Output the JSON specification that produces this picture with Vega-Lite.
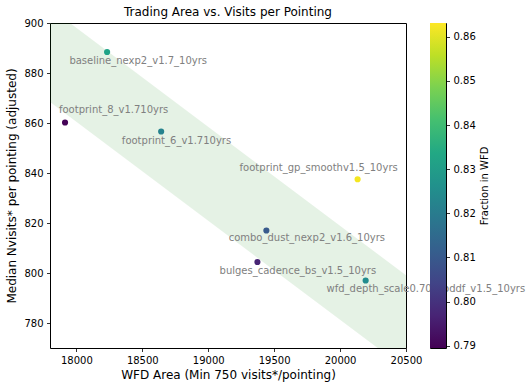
{
  "$schema": "https://vega.github.io/schema/vega-lite/v6.json",
  "background": "white",
  "padding": 5,
  "bounds": "flush",
  "spacing": 24,
  "config": {
    "font": "DejaVu Sans",
    "view": {"stroke": "black", "strokeWidth": 1},
    "axis": {
      "grid": false, "domain": false, "tickColor": "black", "tickSize": 3.5, "tickWidth": 0.8,
      "labelColor": "black", "labelFontSize": 10, "labelFont": "DejaVu Sans", "labelPadding": 3.5,
      "labelFlush": false, "labelOverlap": false,
      "titleFont": "DejaVu Sans", "titleFontWeight": "normal", "titleColor": "black", "titleFontSize": 12
    },
    "title": {"font": "DejaVu Sans", "fontSize": 12, "fontWeight": "normal", "color": "black"}
  },
  "datasets": {
    "band": [
      {"x": 17800, "top": 906.0, "bottom": 868.4},
      {"x": 20500, "top": 799.1, "bottom": 761.5}
    ],
    "runs": [
      {"name": "baseline_nexp2_v1.7_10yrs", "area": 18233, "nvisits": 888.4, "frac": 0.832, "lx": 17947, "ly": 884.9},
      {"name": "footprint_8_v1.710yrs", "area": 17914, "nvisits": 860.2, "frac": 0.790, "lx": 17868, "ly": 865.1},
      {"name": "footprint_6_v1.710yrs", "area": 18643, "nvisits": 856.6, "frac": 0.822, "lx": 18345, "ly": 853.0},
      {"name": "footprint_gp_smoothv1.5_10yrs", "area": 20133, "nvisits": 837.5, "frac": 0.862, "lx": 19238, "ly": 842.2},
      {"name": "combo_dust_nexp2_v1.6_10yrs", "area": 19441, "nvisits": 817.0, "frac": 0.810, "lx": 19155, "ly": 813.9},
      {"name": "bulges_cadence_bs_v1.5_10yrs", "area": 19373, "nvisits": 804.4, "frac": 0.797, "lx": 19086, "ly": 801.0},
      {"name": "wfd_depth_scale0.70_noddf_v1.5_10yrs", "area": 20194, "nvisits": 797.0, "frac": 0.825, "lx": 19897, "ly": 793.6}
    ],
    "cbar": [{"lo": 0.7895, "hi": 0.8631}]
  },
  "hconcat": [
    {
      "width": 356,
      "height": 325,
      "title": {"text": "Trading Area vs. Visits per Pointing", "offset": -1},
      "layer": [
        {
          "data": {"name": "band"},
          "mark": {"type": "area", "clip": true, "color": "#008000", "opacity": 0.1},
          "encoding": {
            "x": {"field": "x", "type": "quantitative",
                  "scale": {"domain": [17800, 20500], "nice": false, "zero": false},
                  "axis": {"values": [18000, 18500, 19000, 19500, 20000, 20500], "format": "d",
                           "title": "WFD Area (Min 750 visits*/pointing)", "titlePadding": 4}},
            "y": {"field": "top", "type": "quantitative",
                  "scale": {"domain": [770, 900], "nice": false, "zero": false},
                  "axis": {"values": [780, 800, 820, 840, 860, 880, 900],
                           "title": "Median Nvisits* per pointing (adjusted)", "titlePadding": 5}},
            "y2": {"field": "bottom"}
          }
        },
        {
          "data": {"name": "runs"},
          "mark": {"type": "circle", "size": 38, "opacity": 1},
          "encoding": {
            "x": {"field": "area", "type": "quantitative"},
            "y": {"field": "nvisits", "type": "quantitative"},
            "color": {"field": "frac", "type": "quantitative",
                      "scale": {"scheme": "viridis", "domain": [0.7895, 0.8631]}, "legend": null}
          }
        },
        {
          "data": {"name": "runs"},
          "mark": {"type": "text", "align": "left", "baseline": "middle", "fontSize": 10, "color": "#808080"},
          "encoding": {
            "x": {"field": "lx", "type": "quantitative"},
            "y": {"field": "ly", "type": "quantitative"},
            "text": {"field": "name"}
          }
        }
      ]
    },
    {
      "width": 16,
      "height": 325,
      "data": {"name": "cbar"},
      "mark": {
        "type": "rect",
        "fill": {
          "gradient": "linear", "x1": 0, "y1": 1, "x2": 0, "y2": 0,
          "stops": [
            {"offset": 0.0, "color": "#440154"},
            {"offset": 0.1, "color": "#482475"},
            {"offset": 0.2, "color": "#414487"},
            {"offset": 0.3, "color": "#355f8d"},
            {"offset": 0.4, "color": "#2a788e"},
            {"offset": 0.5, "color": "#21918c"},
            {"offset": 0.6, "color": "#22a884"},
            {"offset": 0.7, "color": "#44bf70"},
            {"offset": 0.8, "color": "#7ad151"},
            {"offset": 0.9, "color": "#bddf26"},
            {"offset": 1.0, "color": "#fde725"}
          ]
        }
      },
      "encoding": {
        "y": {"field": "lo", "type": "quantitative",
              "scale": {"domain": [0.7895, 0.8631], "nice": false, "zero": false},
              "axis": {"orient": "right", "values": [0.79, 0.80, 0.81, 0.82, 0.83, 0.84, 0.85, 0.86],
                       "format": ".2f", "title": "Fraction in WFD", "titleAngle": 270,
                       "titleBaseline": "top", "titleFontSize": 10, "titlePadding": 4}},
        "y2": {"field": "hi"}
      }
    }
  ]
}
